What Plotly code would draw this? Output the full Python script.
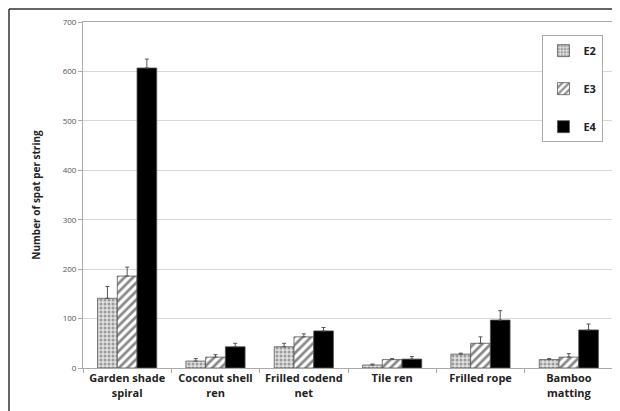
import plotly.graph_objects as go

categories = ["Garden shade<br>spiral", "Coconut shell<br>ren", "Frilled codend<br>net", "Tile ren", "Frilled rope", "Bamboo<br>matting"]
series_names = ["E2", "E3", "E4"]
e2_values = [141, 14, 43, 6, 28, 17]
e2_errors = [24, 5, 7, 2, 2, 2]
e3_values = [186, 22, 63, 17, 50, 22]
e3_errors = [18, 5, 6, 2, 13, 7]
e4_values = [607, 43, 75, 18, 97, 77]
e4_errors = [18, 7, 7, 5, 19, 12]
y_ticks = [0, 100, 200, 300, 400, 500, 600, 700]

fig = go.Figure()

styles = [
    dict(color="#d0d0d0", pattern=dict(shape=".", fgcolor="#555555", bgcolor="#e0e0e0", size=4, solidity=0.45)),
    dict(color="white", pattern=dict(shape="/", fgcolor="#111111", bgcolor="white", size=6, solidity=0.45)),
    dict(color="black", pattern=None),
]

for i, (name, vals, errs) in enumerate(zip(series_names, [e2_values, e3_values, e4_values], [e2_errors, e3_errors, e4_errors])):
    st = styles[i]
    marker = dict(color=st["color"], line=dict(color="#555555", width=0.8))
    if st["pattern"]:
        marker["pattern"] = st["pattern"]
    fig.add_trace(go.Bar(
        x=categories, y=vals, name=name, marker=marker,
        legendgroup=name,
        error_y=dict(type="data", array=errs, symmetric=False, arrayminus=[0]*len(errs),
                     color="#555555", thickness=1, width=2),
    ))

# page is offset by 8px body margin
L, R, T, B = 75, 15, 14, 51
PW = 620 - L - R
PH = 411 - T - B

fig.update_layout(
    width=620, height=411,
    margin=dict(l=L, r=R, t=T, b=B, autoexpand=False),
    paper_bgcolor="white", plot_bgcolor="white",
    barmode="group", bargap=0.33, bargroupgap=0,
    font=dict(family="Open Sans, Liberation Sans, sans-serif"),
    showlegend=True,
    legend=dict(x=0.982, y=0.962, xanchor="right", yanchor="top",
                bordercolor="#aaaaaa", borderwidth=1, bgcolor="white",
                font=dict(size=11, color="#222222", family="Open Sans, sans-serif", weight="bold"),
                tracegroupgap=19, itemwidth=30, traceorder="grouped"),
    xaxis=dict(
        tickfont=dict(size=11, color="#222222", weight="bold"),
        tickangle=0, automargin=False,
        showline=True, linecolor="#aaaaaa", linewidth=1,
        ticks="outside", tickson="boundaries", ticklen=4, tickcolor="#aaaaaa",
        mirror=True,
    ),
    yaxis=dict(
        range=[0, 700], tickvals=y_ticks, automargin=False,
        tickfont=dict(size=8, color="#555555"),
        showgrid=True, gridcolor="#d8d8d8", gridwidth=1,
        showline=True, linecolor="#aaaaaa", linewidth=1, mirror=True,
        ticks="outside", ticklen=4, tickcolor="#aaaaaa",
        title=dict(text="Number of spat per string", font=dict(size=10, color="#222222", weight="bold"), standoff=20),
        zeroline=False,
    ),
    shapes=[
        dict(type="line", xref="paper", yref="paper", x0=(1-L)/PW, x1=1.1, y0=1+(T-1)/PH, y1=1+(T-1)/PH,
             line=dict(color="#333333", width=1.5)),
        dict(type="line", xref="paper", yref="paper", x0=(1-L)/PW, x1=(1-L)/PW, y0=1+(T-1)/PH, y1=-0.3,
             line=dict(color="#333333", width=1.5)),
    ],
)

fig.write_html("out.html")
